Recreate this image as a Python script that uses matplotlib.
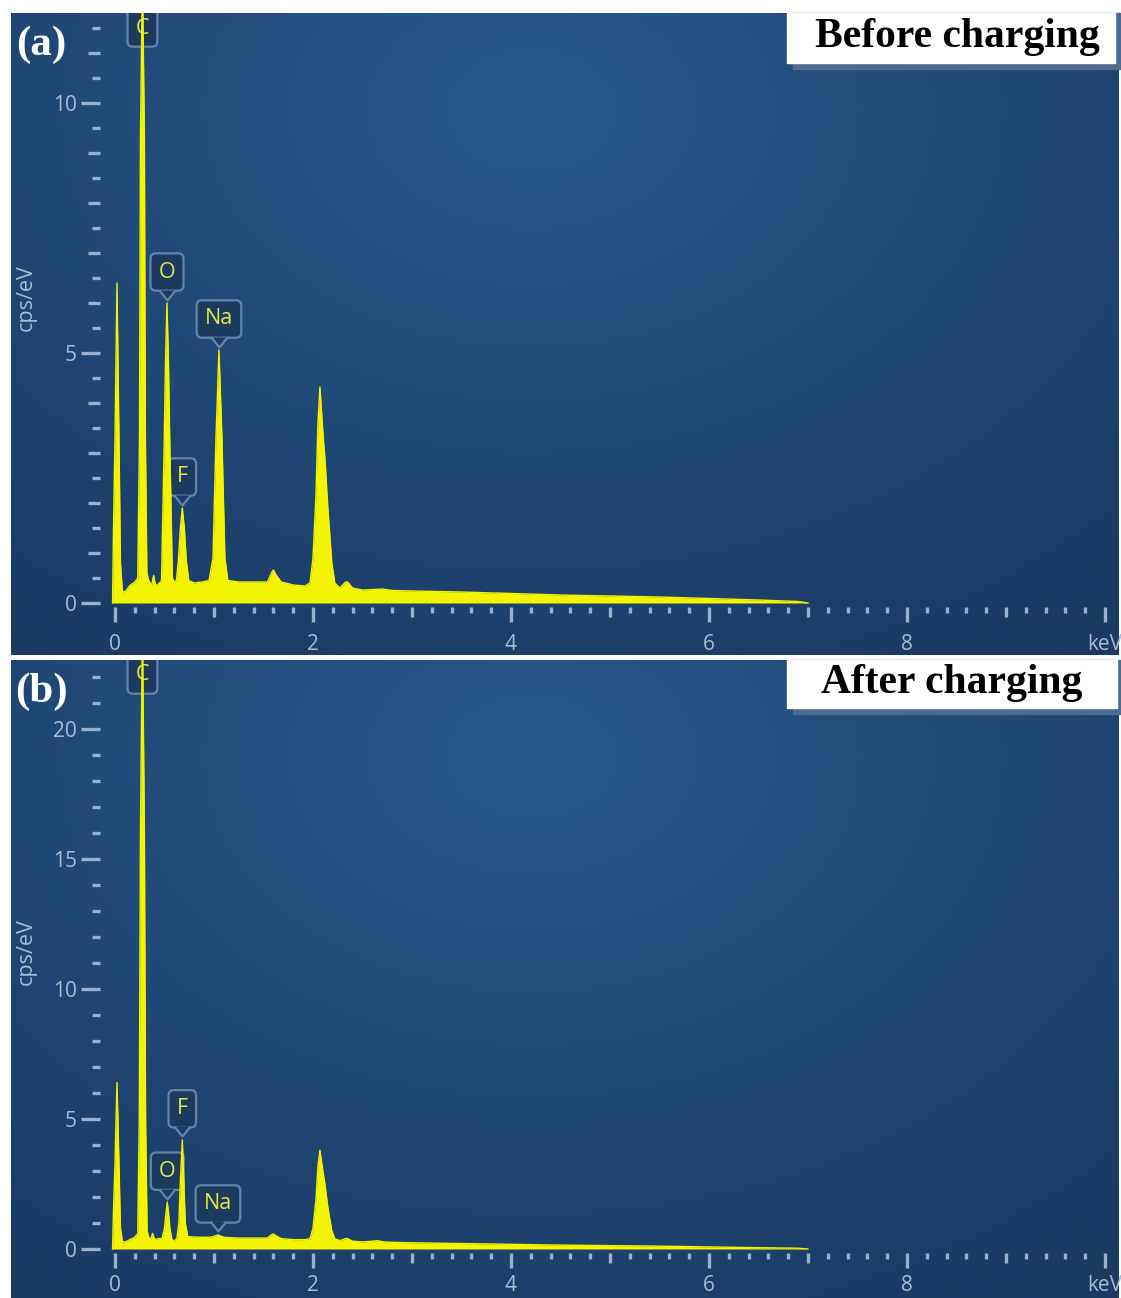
import numpy as np
import matplotlib.pyplot as plt
from matplotlib.patches import Rectangle
from matplotlib.transforms import offset_copy

plt.rcParams['font.family'] = ['Open Sans', 'DejaVu Sans']

# EDS spectra: (keV, cps/eV)
spec_a = [(-0.025, 0.0), (-0.015, 1.5), (0.0, 3.3), (0.02, 6.4), (0.04, 3.3), (0.055, 0.8), (0.075, 0.22),
          (0.11, 0.24), (0.15, 0.35), (0.20, 0.42), (0.23, 0.5),
          (0.247, 3.3), (0.257, 9.3), (0.277, 12.6), (0.297, 9.3), (0.307, 3.3), (0.322, 0.6),
          (0.34, 0.45), (0.37, 0.35), (0.39, 0.55), (0.41, 0.35), (0.44, 0.38),
          (0.47, 0.45), (0.495, 3.0), (0.51, 4.8), (0.525, 6.0), (0.54, 4.8), (0.555, 3.0), (0.58, 0.5),
          (0.60, 0.42), (0.62, 0.45), (0.64, 0.85), (0.66, 1.5), (0.68, 1.9), (0.70, 1.5), (0.72, 0.85), (0.745, 0.45),
          (0.80, 0.4), (0.88, 0.42), (0.95, 0.45),
          (0.99, 0.9), (1.02, 3.3), (1.05, 5.06), (1.08, 3.3), (1.11, 0.9), (1.14, 0.45),
          (1.25, 0.42), (1.40, 0.42), (1.54, 0.42), (1.58, 0.6), (1.60, 0.66), (1.63, 0.55), (1.68, 0.42),
          (1.80, 0.36), (1.92, 0.34), (1.97, 0.4), (2.00, 0.9), (2.03, 2.16), (2.05, 3.6), (2.07, 4.32),
          (2.10, 3.4), (2.12, 2.9), (2.15, 1.9), (2.19, 0.8), (2.22, 0.4),
          (2.27, 0.3), (2.33, 0.42), (2.35, 0.42), (2.40, 0.3), (2.50, 0.26), (2.62, 0.27), (2.70, 0.28), (2.80, 0.25),
          (3.0, 0.24), (3.5, 0.22), (4.0, 0.19), (4.5, 0.16), (5.0, 0.14), (5.5, 0.12), (6.0, 0.09),
          (6.5, 0.06), (6.9, 0.03), (7.0, 0.0)]

spec_b = [(-0.025, 0.0), (-0.015, 1.5), (0.0, 3.3), (0.02, 6.4), (0.04, 3.3), (0.055, 0.8), (0.075, 0.27),
          (0.11, 0.28), (0.15, 0.36), (0.20, 0.45), (0.23, 0.6),
          (0.245, 5.0), (0.257, 16.0), (0.277, 24.0), (0.297, 16.0), (0.309, 5.0), (0.324, 0.7),
          (0.34, 0.45), (0.36, 0.38), (0.38, 0.6), (0.40, 0.36), (0.44, 0.4),
          (0.475, 0.4), (0.50, 0.8), (0.515, 1.4), (0.528, 1.8), (0.54, 1.4), (0.555, 0.8), (0.575, 0.35),
          (0.60, 0.31), (0.625, 0.4), (0.645, 1.0), (0.66, 2.6), (0.68, 4.2), (0.695, 2.6), (0.71, 1.0), (0.735, 0.48),
          (0.80, 0.46), (0.90, 0.45), (0.98, 0.46), (1.04, 0.54), (1.10, 0.45),
          (1.25, 0.42), (1.40, 0.42), (1.54, 0.42), (1.58, 0.55), (1.60, 0.58), (1.63, 0.5), (1.68, 0.4),
          (1.80, 0.36), (1.92, 0.36), (1.97, 0.4), (2.00, 0.8), (2.03, 1.9), (2.05, 3.2), (2.07, 3.8),
          (2.10, 3.0), (2.12, 2.5), (2.15, 1.6), (2.19, 0.7), (2.22, 0.4),
          (2.27, 0.32), (2.33, 0.4), (2.35, 0.4), (2.40, 0.3), (2.50, 0.27), (2.60, 0.3), (2.65, 0.32),
          (2.72, 0.27), (2.85, 0.25),
          (3.0, 0.24), (3.5, 0.21), (4.0, 0.18), (4.5, 0.15), (5.0, 0.13), (5.5, 0.11), (6.0, 0.08),
          (6.5, 0.05), (6.9, 0.03), (7.0, 0.0)]

elements = ['C', 'O', 'F', 'Na']
line_keV_a = [0.277, 0.525, 0.68, 1.05]
line_keV_b = [0.277, 0.528, 0.68, 1.04]

xtick_vals = [0, 2, 4, 6, 8, 10]
xtick_text = ['0', '2', '4', '6', '8', 'keV']
ytick_a = [0, 5, 10]
ytick_b = [0, 5, 10, 15, 20]

W, H = 1121, 1298
PX = 0.72  # points per pixel at dpi 100

fig = plt.figure(figsize=(W / 100, H / 100), dpi=100, facecolor='white')

# soft radial glow of the instrument background
yy, xx = np.mgrid[0:1:300j, 0:1:520j]
dist = np.clip(np.hypot((xx - 0.47) / 0.8, (yy - 0.15) / 1.0), 0, 1)
inner = np.array([38, 90, 140]) / 255
outer = np.array([27, 58, 100]) / 255
grad = inner + (outer - inner) * dist[..., None]

tick_col = '#9ab0ca'
text_col = '#a8bbd1'
yellow = '#f4f400'
box_face = '#1d3a5f'
box_edge = '#6385ad'
label_col = '#e2e54c'
vee = [(-8, 5), (0, -5), (8, 5)]


def panel(top, bottom, y0, scale, xspine_py, xpad, spec, line_keV, yticks, ystep, medium_y,
          title, title_box, title_x, tag, ylab_py):
    left, right = 11, 1119
    pos = [left / W, 1 - bottom / H, (right - left) / W, (bottom - top) / H]
    bg = fig.add_axes(pos)
    bg.imshow(grad, aspect='auto', extent=[0, 1, 0, 1], interpolation='bicubic')
    bg.set_axis_off()
    ax = fig.add_axes(pos)
    ax.set_facecolor('none')

    def fx(px):
        return (px - left) / (right - left)

    def fy(py):
        return (bottom - py) / (bottom - top)

    ax.set_xlim((left - 115) / 99, (right - 115) / 99)
    ax.set_ylim((y0 - bottom) / scale, (y0 - top) / scale)

    e, c = np.array(spec).T
    ax.fill_between(e, 0, c, color=yellow, lw=0, zorder=3)
    ax.plot(e, c, color=yellow, lw=1.0, zorder=3)

    for s in ax.spines.values():
        s.set_visible(False)
    ax.spines['left'].set_position(('data', (100 - 115) / 99))
    ax.spines['bottom'].set_position(('data', (y0 - xspine_py) / scale))

    ax.set_xticks(xtick_vals, xtick_text)
    ax.set_xticks(np.round(np.arange(0, 10.01, 0.2), 2), minor=True)
    ax.set_yticks(yticks)
    ax.set_yticks(np.round(np.arange(0, ax.get_ylim()[1], ystep), 2), minor=True)
    ax.tick_params(which='both', direction='out', color=tick_col, width=2.4,
                   labelcolor=text_col, labelsize=15)
    ax.tick_params(axis='x', which='major', length=15 * PX, pad=xpad * PX)
    ax.tick_params(axis='x', which='minor', length=6 * PX)
    ax.tick_params(axis='y', which='major', length=19 * PX, pad=4 * PX)
    ax.tick_params(axis='y', which='minor', length=8 * PX)
    for t, loc in zip(ax.xaxis.get_minor_ticks(), ax.xaxis.get_minorticklocs()):
        if abs(loc - round(loc)) < 1e-6:
            t.tick1line.set_markersize(10 * PX)
    if medium_y:
        for t, loc in zip(ax.yaxis.get_minor_ticks(), ax.yaxis.get_minorticklocs()):
            if abs(loc - round(loc)) < 1e-6:
                t.tick1line.set_markersize(12 * PX)

    ax.set_ylabel('cps/eV', color=text_col, fontsize=15.5)
    ax.yaxis.set_label_coords(fx(37), fy(ylab_py))

    # element markers: rounded callout box with a small pointer
    box = dict(boxstyle='round,pad=0.38,rounding_size=0.25', fc=box_face, ec=box_edge, lw=1.6)
    heights = np.interp(line_keV, e, c)
    ytop = ax.get_ylim()[1]
    for el, k, h in zip(elements, line_keV, heights):
        if h > ytop:
            ax.text(k, fy(top + 15), el, transform=ax.get_xaxis_transform(), ha='center',
                    va='center', fontsize=15.5, color=label_col, bbox=box, zorder=2.5, clip_on=True)
        else:
            ax.annotate(el, (k, h), xytext=(0, 31 * PX), textcoords='offset points', ha='center',
                        va='center', fontsize=15.5, color=label_col, bbox=box, zorder=2.5)
            ax.plot([k], [h], marker=vee, ms=16 * PX, mfc=box_face, mec=box_edge, mew=1.6,
                    transform=offset_copy(ax.transData, fig=fig, y=8.5 * PX, units='points'), zorder=2.6)

    # title box with its shadow
    bx0, by0, bx1, by1 = title_box
    ax.add_patch(Rectangle((fx(bx0 + 6), fy(by1 + 6)), fx(bx1 + 6) - fx(bx0 + 6), fy(by0) - fy(by1 + 6),
                           transform=ax.transAxes, color='#4b6b90', zorder=5, clip_on=False))
    ax.add_patch(Rectangle((fx(bx0), fy(by1)), fx(bx1) - fx(bx0), fy(by0) - fy(by1),
                           transform=ax.transAxes, color='white', zorder=6, clip_on=False))
    ax.text(fx(title_x), fy((by0 + by1) / 2 - 1), title, transform=ax.transAxes, ha='center',
            va='center', family='Liberation Serif', weight='bold', fontsize=30, color='black', zorder=7)
    ax.text(fx(41), fy(top + 32), tag, transform=ax.transAxes, ha='center', va='center',
            family='Liberation Serif', weight='bold', fontsize=31, color='white', zorder=7)
    return ax


panel(13, 655, 603, 50, 607, 12, spec_a, line_keV_a, ytick_a, 0.5, True,
      'Before charging', (787, 13, 1115, 63), 957, '(a)', 298)
panel(660, 1298, 1249, 26, 1253, 7, spec_b, line_keV_b, ytick_b, 1.0, False,
      'After charging', (787, 660, 1117, 708), 952, '(b)', 952)

fig.savefig('out.png', dpi=100, facecolor='white')
